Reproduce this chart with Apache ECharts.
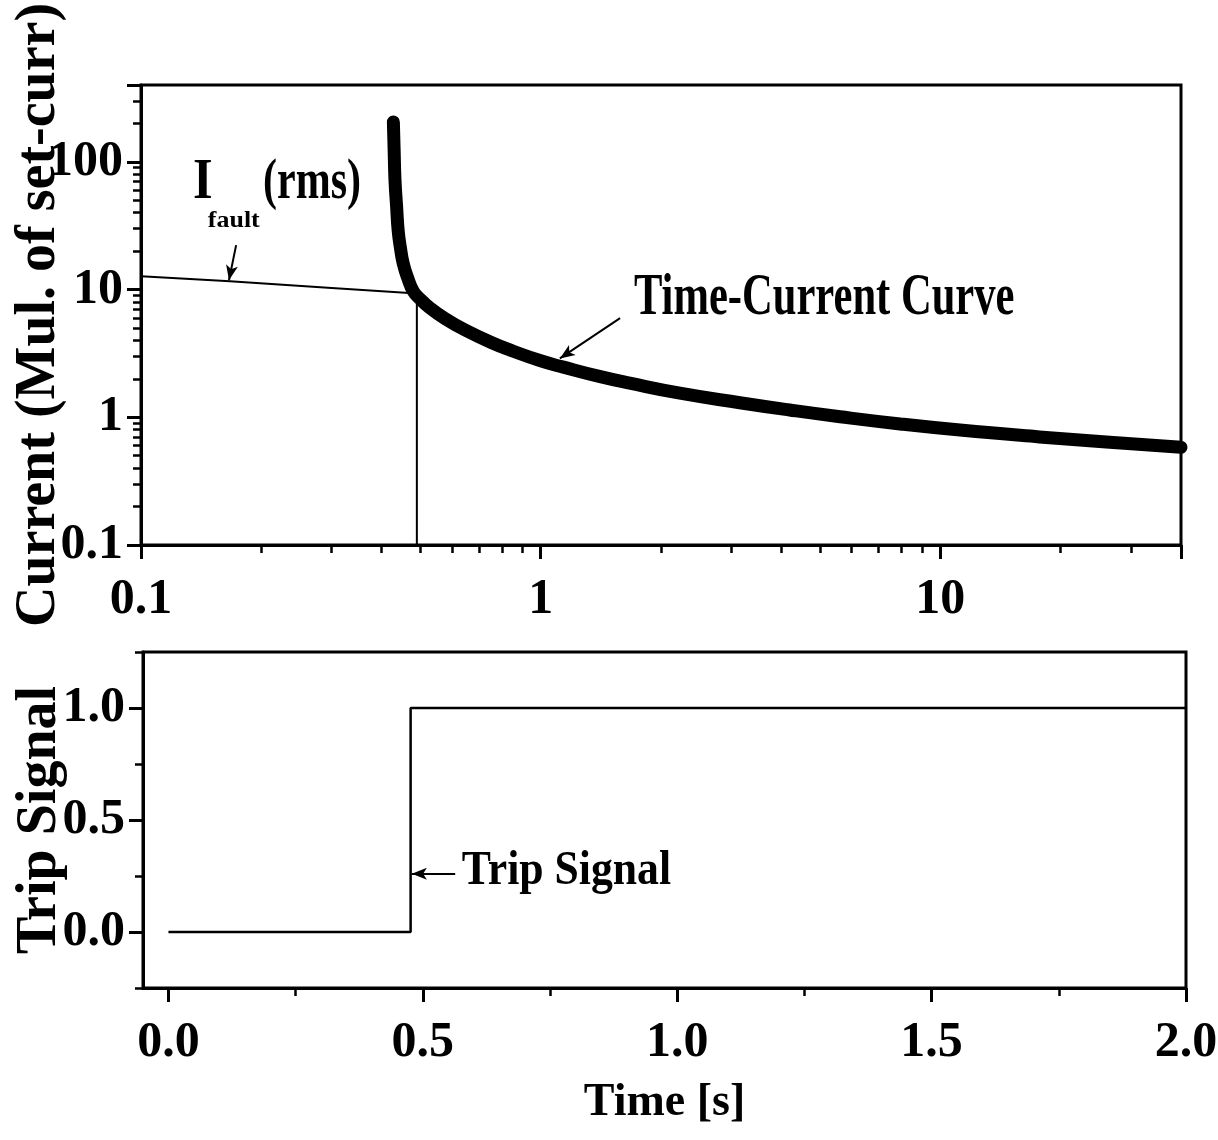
<!DOCTYPE html>
<html>
<head>
<meta charset="utf-8">
<title>Time-Current Curve and Trip Signal</title>
<script src="https://cdn.jsdelivr.net/npm/echarts@6/dist/echarts.min.js"></script>
<style>
  html, body { margin: 0; padding: 0; background: #fff; }
  #chart { width: 1218px; height: 1140px; }
</style>
</head>
<body>
<div id="chart"></div>
<script>
// upper panel: time-current curve (log-log)
const tccTime = [0.428, 0.430, 0.432, 0.436, 0.440, 0.446, 0.453, 0.465, 0.480, 0.500, 0.528, 0.580, 0.640, 0.750, 0.854, 1.00, 1.14, 1.41, 1.67, 2.23, 3.15, 4.2, 5.61, 7.93, 11.2, 17.7, 26, 40];
const tccCurrent = [205, 120, 72, 45, 29, 21, 16, 12.3, 9.7, 8.4, 7.2, 5.86, 4.91, 3.87, 3.29, 2.77, 2.47, 2.08, 1.85, 1.545, 1.30, 1.14, 1.01, 0.887, 0.794, 0.702, 0.64, 0.582];

// fault current (rms) until the trip, then the drop line
const faultTime = [0.1, 0.167, 0.3, 0.49, 0.49];
const faultCurrent = [12.7, 11.6, 10.3, 9.3, 0.1];

// lower panel: trip signal
const tripTime = [0, 0.476, 0.476, 2.0];
const tripSignal = [0, 0, 1, 1];

// tick values
const logMinorX = [0.2, 0.3, 0.4, 0.5, 0.6, 0.7, 0.8, 0.9, 2, 3, 4, 5, 6, 7, 8, 9, 20, 30];
const logMinorY = [0.2, 0.3, 0.4, 0.5, 0.6, 0.7, 0.8, 0.9, 2, 3, 4, 5, 6, 7, 8, 9, 20, 30, 40, 50, 60, 70, 80, 90, 200, 300];
const timeTicks = [0, 0.5, 1.0, 1.5, 2.0];
const timeMinor = [0.25, 0.75, 1.25, 1.75];
const tripTicks = [0, 0.5, 1.0];
const tripMinor = [-0.25, 0.25, 0.75, 1.25];

const zip = (a, b) => a.map((v, i) => [v, b[i]]);

const labelFont = { fontFamily: 'Liberation Serif', fontWeight: 'bold', fontSize: 50, color: '#000' };
const titleFont = { fontFamily: 'Liberation Serif', fontWeight: 'bold', fontSize: 56, color: '#000' };
const black = { color: '#000', width: 3 };
const minorTick = { color: '#000', width: 2.5 };

const decadeOnly = v => {
  const e = Math.log10(v);
  return Math.abs(e - Math.round(e)) < 1e-6 ? String(+v.toPrecision(6)) : '';
};

const arrow = (from, to) => ({
  silent: true,
  symbol: ['none', 'arrow'],
  symbolSize: [9, 15],
  label: { show: false },
  emphasis: { disabled: true },
  lineStyle: { color: '#000', width: 2, type: 'solid' },
  data: [[{ coord: from }, { coord: to }]],
});

const chart = echarts.init(document.getElementById('chart'));

chart.setOption({
  animation: false,
  backgroundColor: '#fff',
  grid: [
    { left: 141, top: 85, width: 1040, height: 460, outerBoundsMode: 'none', show: true, borderColor: '#000', borderWidth: 3 },
    { left: 143, top: 652, width: 1043, height: 336, outerBoundsMode: 'none', show: true, borderColor: '#000', borderWidth: 3 },
  ],
  xAxis: [
    {
      gridIndex: 0, type: 'log', min: 0.1, max: 40, position: 'bottom',
      axisLine: { onZero: false, lineStyle: black },
      axisTick: { length: 14, lineStyle: black },
      axisLabel: Object.assign({ margin: 30, formatter: decadeOnly }, labelFont),
      splitLine: { show: false },
    },
    {
      gridIndex: 0, type: 'log', min: 0.1, max: 40, position: 'bottom', offset: 0,
      axisLine: { show: false, onZero: false },
      axisTick: { length: 8, customValues: logMinorX, lineStyle: minorTick },
      axisLabel: { show: false },
      splitLine: { show: false },
    },
    {
      gridIndex: 1, type: 'value', min: -0.05, max: 2, position: 'bottom',
      name: 'Time [s]', nameLocation: 'middle', nameGap: 92, nameMoveOverlap: false,
      nameTextStyle: { fontFamily: 'Liberation Serif', fontWeight: 'bold', fontSize: 46, color: '#000' },
      axisLine: { onZero: false, lineStyle: black },
      axisTick: { length: 14, customValues: timeTicks, lineStyle: black },
      axisLabel: Object.assign({ margin: 30, customValues: timeTicks, formatter: v => v.toFixed(1) }, labelFont),
      splitLine: { show: false },
    },
    {
      gridIndex: 1, type: 'value', min: -0.05, max: 2, position: 'bottom', offset: 0,
      axisLine: { show: false, onZero: false },
      axisTick: { length: 8, customValues: timeMinor, lineStyle: minorTick },
      axisLabel: { show: false },
      splitLine: { show: false },
    },
  ],
  yAxis: [
    {
      gridIndex: 0, type: 'log', min: 0.1, max: 400, position: 'left',
      name: 'Current (Mul. of set-curr)', nameLocation: 'middle', nameGap: 73, nameMoveOverlap: false,
      nameTextStyle: titleFont,
      axisLine: { onZero: false, lineStyle: black },
      axisTick: { length: 14, lineStyle: black },
      axisLabel: Object.assign({ margin: 18, formatter: decadeOnly }, labelFont),
      splitLine: { show: false },
    },
    {
      gridIndex: 0, type: 'log', min: 0.1, max: 400, position: 'left', offset: 0,
      axisLine: { show: false, onZero: false },
      axisTick: { length: 8, customValues: logMinorY, lineStyle: minorTick },
      axisLabel: { show: false },
      splitLine: { show: false },
    },
    {
      gridIndex: 1, type: 'value', min: -0.25, max: 1.25, position: 'left',
      name: 'Trip Signal', nameLocation: 'middle', nameGap: 74, nameMoveOverlap: false,
      nameTextStyle: titleFont,
      axisLine: { onZero: false, lineStyle: black },
      axisTick: { length: 14, customValues: tripTicks, lineStyle: black },
      axisLabel: Object.assign({ margin: 18, customValues: tripTicks, formatter: v => v.toFixed(1) }, labelFont),
      splitLine: { show: false },
    },
    {
      gridIndex: 1, type: 'value', min: -0.25, max: 1.25, position: 'left', offset: 0,
      axisLine: { show: false, onZero: false },
      axisTick: { length: 8, customValues: tripMinor, lineStyle: minorTick },
      axisLabel: { show: false },
      splitLine: { show: false },
    },
  ],
  series: [
    {
      name: 'I_fault', type: 'line', xAxisIndex: 0, yAxisIndex: 0,
      data: zip(faultTime, faultCurrent),
      symbol: 'none',
      lineStyle: { color: '#000', width: 2 },
      markLine: arrow([0.173, 22.3], [0.166, 11.85]),
      z: 2,
    },
    {
      name: 'Time-Current Curve', type: 'line', xAxisIndex: 0, yAxisIndex: 0,
      data: zip(tccTime, tccCurrent),
      symbol: 'none', smooth: 0.5,
      lineStyle: { color: '#000', width: 13, cap: 'round', join: 'round' },
      markLine: arrow([1.58, 5.97], [1.117, 2.89]),
      z: 3,
    },
    {
      name: 'Trip Signal', type: 'line', xAxisIndex: 2, yAxisIndex: 2,
      data: zip(tripTime, tripSignal),
      symbol: 'none',
      lineStyle: { color: '#000', width: 2.5 },
      markLine: arrow([0.5636, 0.26], [0.4785, 0.26]),
      z: 2,
    },
  ],
});

// annotation texts, anchored in data coordinates
const notes = [
  { panel: 0, at: [1.711, 8.59], text: 'Time-Current Curve', size: 60, sx: 0.71 },
  { panel: 1, at: [0.5767, 0.271], text: 'Trip Signal', size: 48, sx: 0.91 },
  { panel: 0, at: [0.135, 67.2], text: 'I', size: 56, sx: 0.9 },
  { panel: 0, at: [0.147, 34.4], text: 'fault', size: 24, sx: 1.08 },
  { panel: 0, at: [0.202, 67.2], text: '(rms)', size: 56, sx: 0.75 },
];

const elements = notes.map(n => {
  const idx = n.panel ? 2 : 0;
  const p = chart.convertToPixel({ xAxisIndex: idx, yAxisIndex: idx }, n.at);
  return {
    type: 'text', x: p[0], y: p[1], scaleX: n.sx, silent: true, z: 10,
    style: {
      text: n.text, fill: '#000',
      font: 'bold ' + n.size + 'px "Liberation Serif"',
      align: 'left', verticalAlign: 'middle',
      textAlign: 'left', textVerticalAlign: 'middle',
    },
  };
});
chart.setOption({ graphic: { elements: elements } });
</script>
</body>
</html>
